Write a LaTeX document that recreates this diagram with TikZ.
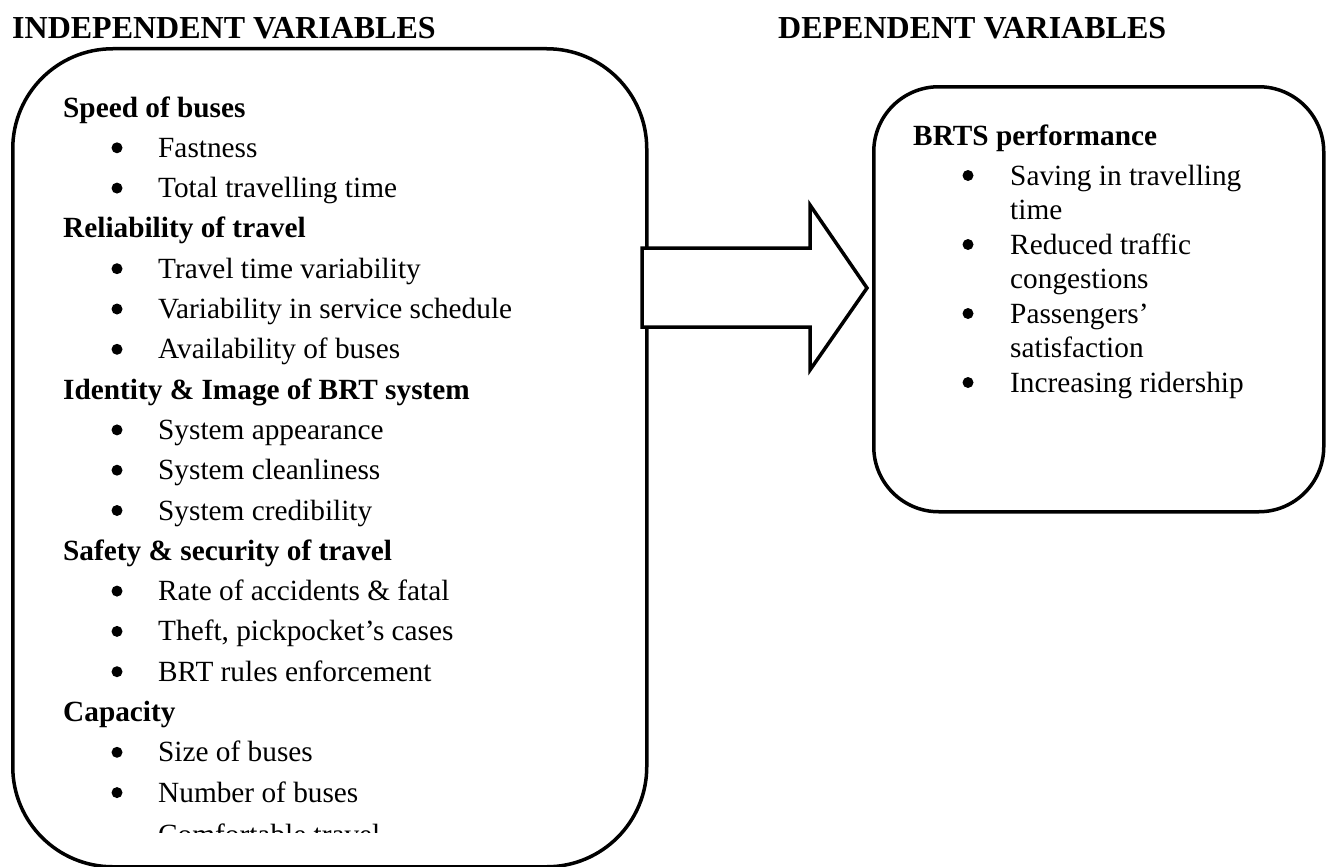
\documentclass[tikz,border=0pt]{standalone}
\usepackage{fontspec}
\setmainfont{Liberation Serif}
\begin{document}
\begin{tikzpicture}[x=1pt,y=-1pt,
  box/.style={draw, line width=3.5pt, fill=white, anchor=north west, inner sep=0pt},
  title/.style={anchor=base west, inner sep=0pt, font=\bfseries\fontsize{32}{38}\selectfont},
  head/.style={anchor=base west, inner sep=0pt, font=\bfseries\fontsize{29.3}{35}\selectfont},
  item/.style={anchor=base west, inner sep=0pt, font=\fontsize{29.3}{35}\selectfont},
  bul/.style={circle, fill=black, inner sep=0pt, minimum size=11pt, yshift=9.5pt},
  blockarrow/.style={draw, line width=3.5pt, fill=white, line join=miter}]
\useasboundingbox (0,0) rectangle (1330,867);
% titles
\node[title] (t1) at (12,38) {INDEPENDENT VARIABLES};
\node[title] (t2) at (778,38) {DEPENDENT VARIABLES};
% boxes
\node[box, rounded corners=100pt, minimum width=634pt, minimum height=818pt] (L) at (11,47) {};
\node[box, rounded corners=65pt, minimum width=450pt, minimum height=425pt] (R) at (872,85) {};
% block arrow
\coordinate (a1) at (642,248);
\coordinate (a2) at (810,248);
\coordinate (a3) at (810,205);
\coordinate (tip) at (867,288);
\coordinate (a5) at (810,370);
\coordinate (a6) at (810,327);
\coordinate (a7) at (642,327);
\draw[blockarrow] (a1) -- (a2) -- (a3) -- (tip) -- (a5) -- (a6) -- (a7) -- cycle;
% left box text
\def\hx{63}\def\bx{117}\def\tx{158}
\node[head] (h1) at (\hx,117.0) {Speed of buses};
\node[bul] (b1) at (\bx,157.3) {};\node[item] (i1) at (\tx,157.3) {Fastness};
\node[bul] (b2) at (\bx,197.6) {};\node[item] (i2) at (\tx,197.6) {Total travelling time};
\node[head] (h2) at (\hx,237.9) {Reliability of travel};
\node[bul] (b3) at (\bx,278.2) {};\node[item] (i3) at (\tx,278.2) {Travel time variability};
\node[bul] (b4) at (\bx,318.5) {};\node[item] (i4) at (\tx,318.5) {Variability in service schedule};
\node[bul] (b5) at (\bx,358.8) {};\node[item] (i5) at (\tx,358.8) {Availability of buses};
\node[head] (h3) at (\hx,399.1) {Identity \& Image of BRT system};
\node[bul] (b6) at (\bx,439.4) {};\node[item] (i6) at (\tx,439.4) {System appearance};
\node[bul] (b7) at (\bx,479.7) {};\node[item] (i7) at (\tx,479.7) {System cleanliness};
\node[bul] (b8) at (\bx,520.0) {};\node[item] (i8) at (\tx,520.0) {System credibility};
\node[head] (h4) at (\hx,560.3) {Safety \& security of travel};
\node[bul] (b9) at (\bx,600.6) {};\node[item] (i9) at (\tx,600.6) {Rate of accidents \& fatal};
\node[bul] (b10) at (\bx,640.9) {};\node[item] (i10) at (\tx,640.9) {Theft, pickpocket’s cases};
\node[bul] (b11) at (\bx,681.2) {};\node[item] (i11) at (\tx,681.2) {BRT rules enforcement};
\node[head] (h5) at (\hx,721.5) {Capacity};
\node[bul] (b12) at (\bx,761.8) {};\node[item] (i12) at (\tx,761.8) {Size of buses};
\node[bul] (b13) at (\bx,802.1) {};\node[item] (i13) at (\tx,802.1) {Number of buses};
\begin{scope}
\clip (40,810) rectangle (640,832);
\node[item] (i14) at (\tx,844.5) {Comfortable travel};
\end{scope}
% right box text
\def\rhx{913}\def\rbx{968}\def\rtx{1010}
\node[head] (rh) at (\rhx,145) {BRTS performance};
\node[bul] (rb1) at (\rbx,185) {};\node[item] (ri1) at (\rtx,185) {Saving in travelling};
\node[item] (ri1b) at (\rtx,219.5) {time};
\node[bul] (rb2) at (\rbx,254) {};\node[item] (ri2) at (\rtx,254) {Reduced traffic};
\node[item] (ri2b) at (\rtx,288.5) {congestions};
\node[bul] (rb3) at (\rbx,323) {};\node[item] (ri3) at (\rtx,323) {Passengers’};
\node[item] (ri3b) at (\rtx,357.5) {satisfaction};
\node[bul] (rb4) at (\rbx,392) {};\node[item] (ri4) at (\rtx,392) {Increasing ridership};
\end{tikzpicture}
\end{document}
